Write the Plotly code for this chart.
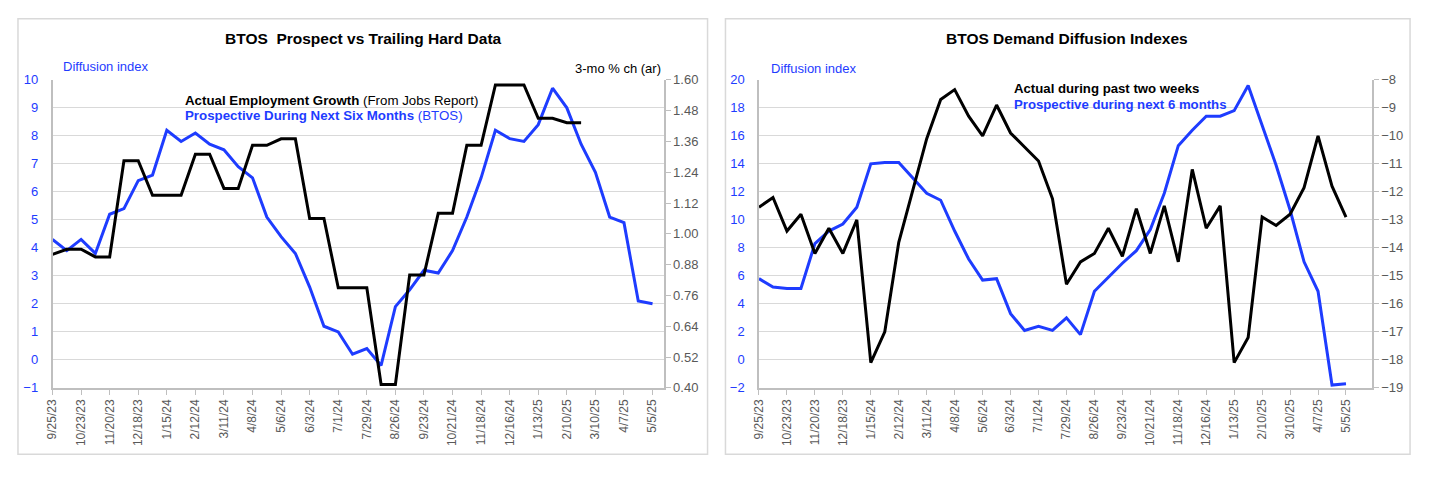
import plotly.graph_objects as go

# The page keeps the browser's default 8px body margin, so the figure is sized
# to fit the 1429x480 window exactly inside that margin.
OFF = 8
W, H = 1429 - 2 * OFF, 480 - 2 * OFF

dates = [
    "2023-09-25", "2023-10-09", "2023-10-23", "2023-11-06", "2023-11-20", "2023-12-04",
    "2023-12-18", "2024-01-01", "2024-01-15", "2024-01-29", "2024-02-12", "2024-02-26",
    "2024-03-11", "2024-03-25", "2024-04-08", "2024-04-22", "2024-05-06", "2024-05-20",
    "2024-06-03", "2024-06-17", "2024-07-01", "2024-07-15", "2024-07-29", "2024-08-12",
    "2024-08-26", "2024-09-09", "2024-09-23", "2024-10-07", "2024-10-21", "2024-11-04",
    "2024-11-18", "2024-12-02", "2024-12-16", "2024-12-30", "2025-01-13", "2025-01-27",
    "2025-02-10", "2025-02-24", "2025-03-10", "2025-03-24", "2025-04-07", "2025-04-21",
    "2025-05-05",
]

tick_labels = [
    "9/25/23", "10/23/23", "11/20/23", "12/18/23", "1/15/24", "2/12/24", "3/11/24",
    "4/8/24", "5/6/24", "6/3/24", "7/1/24", "7/29/24", "8/26/24", "9/23/24", "10/21/24",
    "11/18/24", "12/16/24", "1/13/25", "2/10/25", "3/10/25", "4/7/25", "5/5/25",
]
tick_dates = dates[::2]

# Left chart
btos_prospective = [
    4.3, 3.9, 4.3, 3.8, 5.2, 5.4, 6.4, 6.6, 8.2, 7.8, 8.1, 7.7, 7.5, 6.9, 6.5, 5.1,
    4.4, 3.8, 2.6, 1.2, 1.0, 0.2, 0.4, -0.2, 1.9, 2.5, 3.2, 3.1, 3.9, 5.1, 6.5, 8.2,
    7.9, 7.8, 8.4, 9.7, 9.0, 7.7, 6.7, 5.1, 4.9, 2.1, 2.0,
]
employment_growth = [
    0.92, 0.94, 0.94, 0.91, 0.91, 1.285, 1.285, 1.15, 1.15, 1.15, 1.31, 1.31, 1.177,
    1.177, 1.345, 1.345, 1.37, 1.37, 1.06, 1.06, 0.79, 0.79, 0.79, 0.413, 0.413, 0.84,
    0.84, 1.08, 1.08, 1.345, 1.345, 1.58, 1.58, 1.58, 1.45, 1.45, 1.433, 1.433,
    None, None, None, None, None,
]

# Right chart
demand_prospective = [
    5.8, 5.2, 5.1, 5.1, 8.3, 9.2, 9.7, 10.9, 14.0, 14.1, 14.1, 13.0, 11.9, 11.4, 9.2,
    7.2, 5.7, 5.8, 3.3, 2.1, 2.4, 2.1, 3.0, 1.8, 4.9, 5.9, 6.9, 7.8, 9.3, 11.9, 15.3,
    16.4, 17.4, 17.4, 17.8, 19.6, 16.7, 13.9, 10.7, 7.0, 4.9, -1.8, -1.7,
]
demand_actual = [
    -12.55, -12.2, -13.4, -12.8, -14.2, -13.3, -14.2, -13.0, -18.1, -17.0, -13.8,
    -11.9, -10.1, -8.7, -8.35, -9.3, -10.0, -8.9, -9.9, -10.4, -10.9, -12.25, -15.3,
    -14.5, -14.2, -13.3, -14.3, -12.6, -14.2, -12.5, -14.5, -11.2, -13.3, -12.5,
    -18.1, -17.2, -12.9, -13.2, -12.8, -11.85, -10.0, -11.8, -12.9,
]

left_ticks_y2 = [0.40, 0.52, 0.64, 0.76, 0.88, 1.00, 1.12, 1.24, 1.36, 1.48, 1.60]

BLUE = "#1E3CFF"
GRAY_TXT = "#595959"
GRID = "#D9D9D9"
AXLINE = "#BFBFBF"
FONT = "Liberation Sans, Arial, sans-serif"


def px(x):
    return (x - OFF) / W


def py(y):
    return 1 - (y - OFF) / H


fig = go.Figure()

fig.add_trace(go.Scatter(x=dates, y=btos_prospective, mode="lines",
                         line=dict(color=BLUE, width=3), xaxis="x", yaxis="y",
                         showlegend=False))
fig.add_trace(go.Scatter(x=dates, y=employment_growth, mode="lines",
                         line=dict(color="black", width=3), xaxis="x", yaxis="y2",
                         showlegend=False))
fig.add_trace(go.Scatter(x=dates, y=demand_prospective, mode="lines",
                         line=dict(color=BLUE, width=3), xaxis="x2", yaxis="y3",
                         showlegend=False))
fig.add_trace(go.Scatter(x=dates, y=demand_actual, mode="lines",
                         line=dict(color="black", width=3), xaxis="x2", yaxis="y4",
                         showlegend=False))

ydom = [py(393.3), py(75)]
xdom1 = [px(45.7), px(660)]
xdom2 = [px(755.7), px(1371.7)]

xcommon = dict(type="date", tickmode="array", tickvals=tick_dates, ticktext=tick_labels,
               tickangle=-90, tickfont=dict(size=12, color=GRAY_TXT, family=FONT),
               showgrid=False, showline=True, linecolor=AXLINE, linewidth=1.5,
               ticks="outside", ticklen=5, tickcolor=AXLINE, zeroline=False)

fig.update_layout(
    width=W, height=H,
    margin=dict(l=0, r=0, t=0, b=0),
    paper_bgcolor="white", plot_bgcolor="white",
    font=dict(family=FONT),
    xaxis=dict(domain=xdom1, anchor="y", range=["2023-09-25", "2025-05-16"], **xcommon),
    yaxis=dict(domain=ydom, anchor="x", range=[-1, 10], dtick=1, tick0=0,
               tickfont=dict(size=13, color=BLUE, family=FONT), gridcolor=GRID,
               gridwidth=1, showline=True, linecolor=AXLINE, linewidth=1.5,
               zeroline=False, ticks="", ticklabelstandoff=10),
    yaxis2=dict(overlaying="y", side="right", anchor="x", range=[0.40, 1.60],
                tickmode="array", tickvals=left_ticks_y2,
                ticktext=[f"{v:.2f}" for v in left_ticks_y2],
                tickfont=dict(size=13, color=GRAY_TXT, family=FONT), showgrid=False,
                showline=True, linecolor=AXLINE, linewidth=1.5, ticks="outside",
                ticklen=5, tickcolor=AXLINE, zeroline=False),
    xaxis2=dict(domain=xdom2, anchor="y3", range=["2023-09-25", "2025-05-31"], **xcommon),
    yaxis3=dict(domain=ydom, anchor="x2", range=[-2, 20], dtick=2, tick0=0,
                tickfont=dict(size=13, color=BLUE, family=FONT), gridcolor=GRID,
                gridwidth=1, showline=True, linecolor=AXLINE, linewidth=1.5,
                zeroline=False, ticks="", ticklabelstandoff=10),
    yaxis4=dict(overlaying="y3", side="right", anchor="x2", range=[-19, -8], dtick=1,
                tick0=-8, tickfont=dict(size=13, color=GRAY_TXT, family=FONT),
                showgrid=False, showline=True, linecolor=AXLINE, linewidth=1.5,
                ticks="outside", ticklen=5, tickcolor=AXLINE, zeroline=False),
)

# panel borders
for x0, x1 in [(11, 704), (722, 1410)]:
    fig.add_shape(type="rect", xref="paper", yref="paper", x0=px(x0), x1=px(x1),
                  y0=py(462), y1=py(12), line=dict(color=GRID, width=1.5),
                  fillcolor="rgba(0,0,0,0)", layer="below")


def ann(text, x, y, xanchor="left", size=13, color="black"):
    fig.add_annotation(text=text, x=px(x), y=py(y), xref="paper", yref="paper",
                       xanchor=xanchor, yanchor="middle", showarrow=False,
                       font=dict(size=size, color=color, family=FONT))


ann("<b>BTOS  Prospect vs Trailing Hard Data</b>", 358, 32, "center", 15.5)
ann("<b>BTOS Demand Diffusion Indexes</b>", 1065, 32, "center", 15.5)
ann("Diffusion index", 54, 61, "left", 13, BLUE)
ann("Diffusion index", 766, 63, "left", 13, BLUE)
ann("3-mo % ch (ar)", 659, 63, "right", 13, "black")
ann("<b>Actual Employment Growth</b> (From Jobs Report)", 177, 96, "left", 13.3, "black")
ann("<b>Prospective During Next Six Months</b> (BTOS)", 177, 112, "left", 13.3, BLUE)
ann("<b>Actual during past two weeks</b>", 1010, 84, "left", 13.2, "black")
ann("<b>Prospective during next 6 months</b>", 1010, 100, "left", 13.2, BLUE)

fig.write_html(
    "out.html",
    config={"responsive": False, "displayModeBar": False},
)
